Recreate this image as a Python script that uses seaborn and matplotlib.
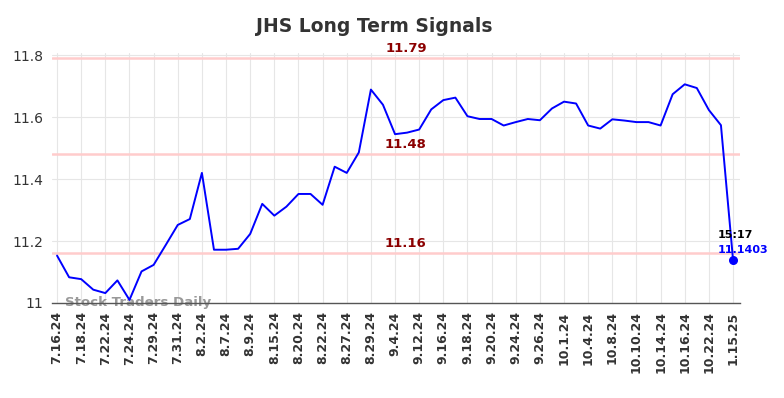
import matplotlib
matplotlib.use("Agg")
import matplotlib.pyplot as plt
import numpy as np
import pandas as pd
import seaborn as sns

# tick labels, one every second data point
tick_labels = ['7.16.24', '7.18.24', '7.22.24', '7.24.24', '7.29.24', '7.31.24',
               '8.2.24', '8.7.24', '8.9.24', '8.15.24', '8.20.24', '8.22.24',
               '8.27.24', '8.29.24', '9.4.24', '9.12.24', '9.16.24', '9.18.24',
               '9.20.24', '9.24.24', '9.26.24', '10.1.24', '10.4.24', '10.8.24',
               '10.10.24', '10.14.24', '10.16.24', '10.22.24', '1.15.25']

prices = [11.153, 11.083, 11.077, 11.043, 11.032, 11.073, 11.010, 11.102,
          11.123, 11.187, 11.252, 11.271, 11.420, 11.172, 11.172, 11.175,
          11.223, 11.320, 11.282, 11.311, 11.352, 11.352, 11.317, 11.440,
          11.420, 11.486, 11.689, 11.640, 11.545, 11.550, 11.560, 11.625,
          11.655, 11.663, 11.603, 11.594, 11.594, 11.573, 11.584, 11.594,
          11.590, 11.628, 11.650, 11.644, 11.573, 11.563, 11.593, 11.589,
          11.584, 11.584, 11.573, 11.674, 11.706, 11.694, 11.623, 11.574,
          11.1403]

signal_levels = [11.79, 11.48, 11.16]
last_time = '15:17'
last_price = 11.1403


def main():
    """Draw the long term signals chart and save it."""
    sns.set_style("whitegrid")
    plt.rcParams['font.family'] = ['DejaVu Sans']

    df = pd.DataFrame({'idx': np.arange(len(prices)), 'price': prices})

    fig = plt.figure(figsize=(7.84, 3.98), dpi=100)
    ax = fig.add_axes([0.0663, 0.2387, 0.8776, 0.6273])

    for lvl in signal_levels:
        ax.axhline(lvl, color='#ffcccc', linewidth=1.8, zorder=1)
        ax.text(28.9, lvl + 0.012, f'{lvl:.2f}', color='#8b0000',
                fontsize=9.5, fontweight='bold', ha='center', va='bottom')

    sns.lineplot(data=df, x='idx', y='price', color='#0000ff',
                 linewidth=1.4, ax=ax, zorder=3)
    ax.scatter([df['idx'].iloc[-1]], [last_price], color='#0000ff', s=30,
               zorder=4)
    ax.annotate(last_time, (df['idx'].iloc[-1], last_price),
                xytext=(-11, 14), textcoords='offset points', fontsize=8,
                fontweight='bold', color='black', ha='left', va='bottom')
    ax.annotate(f'{last_price}', (df['idx'].iloc[-1], last_price),
                xytext=(-11, 3), textcoords='offset points', fontsize=8,
                fontweight='bold', color='#0000ff', ha='left', va='bottom')

    ax.set_xlim(-0.42, 56.58)
    ax.set_ylim(11.0, 11.806)
    ax.set_xticks(np.arange(0, len(prices), 2))
    ax.set_xticklabels(tick_labels, rotation=90, fontsize=9,
                       fontweight='bold', color='#333333')
    ax.set_yticks([11.0, 11.2, 11.4, 11.6, 11.8])
    ax.set_yticklabels(['11', '11.2', '11.4', '11.6', '11.8'], fontsize=10,
                       color='#333333')
    ax.tick_params(axis='both', length=0, pad=6)
    ax.set_xlabel('')
    ax.set_ylabel('')
    ax.grid(True, color='#e6e6e6', linewidth=0.8)

    for side in ['top', 'right', 'left']:
        ax.spines[side].set_visible(False)
    ax.spines['bottom'].set_color('#555555')
    ax.spines['bottom'].set_linewidth(1)

    ax.text(0.7, 11.0, 'Stock Traders Daily', fontsize=9.6, fontweight='bold',
            color='#999999', ha='left', va='center', zorder=2)

    fig.text(0.477, 0.933, 'JHS Long Term Signals', fontsize=13.5,
             fontweight='bold', color='#333333', ha='center', va='center')

    fig.savefig('out.png', dpi=100)
    plt.close(fig)


if __name__ == '__main__':
    main()
